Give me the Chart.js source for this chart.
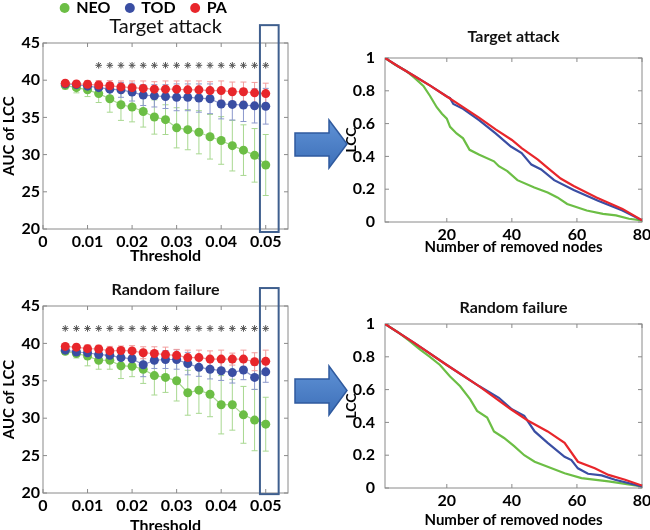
<!DOCTYPE html>
<html lang="en">
<head>
  <meta charset="UTF-8">
  <title>AUC of LCC and LCC curves</title>
  <style>
    body {
      margin: 0;
      width: 650px;
      height: 530px;
      overflow: hidden;
      position: relative;
      background: #fff;
    }
    canvas { position: absolute; }
    #ta-auc { left: 0; top: -16px; }
    #rf-auc { left: 0; top: 270px; }
    #ta-lcc { left: 340px; top: 28px; }
    #rf-lcc { left: 340px; top: 296px; }
    svg { position: absolute; left: 0; top: 0; pointer-events: none; }
  </style>
</head>
<body>
  <canvas id="ta-auc" width="308" height="281"></canvas>
  <canvas id="rf-auc" width="308" height="265"></canvas>
  <canvas id="ta-lcc" width="310" height="228"></canvas>
  <canvas id="rf-lcc" width="310" height="233"></canvas>
  <svg width="650" height="530">
    <defs>
      <linearGradient id="arrowFill" x1="0" y1="0" x2="0" y2="1">
        <stop offset="0" stop-color="#5f92d6"/>
        <stop offset="1" stop-color="#3d6fb8"/>
      </linearGradient>
    </defs>
    <polygon points="295,133 329,133 329,120 347,144 329,168 329,156 295,156" fill="url(#arrowFill)" stroke="#2f5a9e" stroke-width="1.5"/>
    <polygon points="295,379 329,379 329,366 347,390.5 329,415 329,403 295,403" fill="url(#arrowFill)" stroke="#2f5a9e" stroke-width="1.5"/>
  </svg>

  <script src="https://cdn.jsdelivr.net/npm/chart.js"></script>
  <script>
    // ---- data: left panels (AUC of LCC vs threshold) ----
    const thresholds = [0.005, 0.0075, 0.01, 0.0125, 0.015, 0.0175, 0.02, 0.0225, 0.025, 0.0275,
                        0.03, 0.0325, 0.035, 0.0375, 0.04, 0.0425, 0.045, 0.0475, 0.05];

    const taAucNEO = [39.3, 39.0, 38.7, 38.2, 37.5, 36.7, 36.4, 35.8, 35.05, 34.7, 33.6, 33.35, 33.0, 32.4, 31.9, 31.2, 30.6, 29.9, 28.6];
    const taErrNEO = [0.5, 0.7, 0.9, 1.2, 1.8, 2.1, 2.0, 2.1, 2.3, 2.0, 2.7, 2.7, 2.9, 3.0, 3.2, 3.4, 3.4, 3.6, 4.1];
    const taAucTOD = [39.5, 39.4, 39.2, 39.0, 38.8, 38.7, 38.4, 38.0, 37.9, 37.8, 37.7, 37.7, 37.6, 37.5, 36.8, 36.75, 36.65, 36.55, 36.5];
    const taErrTOD = [0.3, 0.4, 0.5, 0.7, 0.9, 1.0, 1.2, 1.4, 1.5, 1.6, 1.8, 1.8, 1.9, 2.0, 2.0, 2.1, 2.2, 2.3, 2.4];
    const taAucPA  = [39.6, 39.5, 39.45, 39.35, 39.25, 39.1, 39.0, 38.9, 38.8, 38.8, 38.8, 38.7, 38.7, 38.6, 38.6, 38.45, 38.45, 38.3, 38.2];
    const taErrPA  = [0.3, 0.4, 0.5, 0.6, 0.7, 0.8, 0.9, 1.0, 1.0, 1.1, 1.1, 1.2, 1.2, 1.2, 1.3, 1.3, 1.3, 1.4, 1.4];
    const taStars  = [0.0125, 0.015, 0.0175, 0.02, 0.0225, 0.025, 0.0275, 0.03, 0.0325, 0.035, 0.0375, 0.04, 0.0425, 0.045, 0.0475, 0.05];

    const rfAucNEO = [38.95, 38.65, 38.3, 37.75, 37.75, 37.0, 36.95, 36.55, 35.7, 35.45, 35.0, 33.4, 33.75, 33.2, 31.8, 31.8, 30.45, 29.75, 29.2];
    const rfErrNEO = [0.4, 0.6, 1.3, 1.2, 1.2, 1.7, 1.4, 1.9, 2.6, 2.0, 2.7, 3.0, 3.1, 3.0, 3.9, 3.4, 3.8, 4.1, 3.6];
    const rfAucTOD = [39.1, 38.85, 38.75, 38.5, 38.4, 38.1, 37.95, 37.15, 37.75, 37.85, 37.85, 37.3, 36.8, 36.55, 36.35, 36.1, 36.45, 35.45, 36.2];
    const rfErrTOD = [0.3, 0.5, 0.6, 0.7, 0.8, 0.9, 0.9, 1.6, 1.1, 1.2, 1.3, 1.5, 1.2, 1.3, 1.3, 1.4, 1.3, 1.6, 1.4];
    const rfAucPA  = [39.6, 39.5, 39.3, 39.25, 39.0, 39.05, 39.0, 38.75, 38.65, 38.5, 38.4, 38.1, 38.1, 37.9, 37.9, 37.9, 37.9, 37.55, 37.6];
    const rfErrPA  = [0.3, 0.4, 0.5, 0.5, 0.6, 0.6, 0.7, 0.8, 0.9, 1.0, 0.8, 1.0, 1.0, 1.1, 1.2, 0.8, 1.2, 1.2, 1.5];
    const rfStars  = [0.005, 0.0075, 0.01, 0.0125, 0.015, 0.0175, 0.02, 0.0225, 0.025, 0.0275,
                      0.03, 0.0325, 0.035, 0.0375, 0.04, 0.0425, 0.045, 0.0475, 0.05];
    const starLevel = 42;

    // ---- data: right panels (LCC vs removed nodes) ----
    const taNodesPA  = [1, 5, 10, 15, 20, 25, 30, 35, 40, 43, 48, 51, 55, 59, 66, 74, 80];
    const taLccPA    = [1, 0.95, 0.89, 0.83, 0.765, 0.70, 0.635, 0.565, 0.50, 0.45, 0.38, 0.33, 0.265, 0.22, 0.15, 0.08, 0.01];
    const taNodesTOD = [1, 5, 10, 15, 20, 21, 22, 25, 30, 35, 39.7, 43, 46, 49, 53, 59, 66.5, 74, 80];
    const taLccTOD   = [1, 0.95, 0.89, 0.83, 0.765, 0.755, 0.72, 0.69, 0.62, 0.54, 0.46, 0.42, 0.35, 0.32, 0.255, 0.195, 0.13, 0.07, 0.01];
    const taNodesNEO = [1, 4, 7.6, 10, 12.8, 14.8, 16.9, 18.5, 20, 21, 23, 25, 27, 30, 34.5, 36, 38.6, 41.7, 46.9, 51, 54, 57, 63, 68, 72, 76, 80];
    const taLccNEO   = [1, 0.96, 0.92, 0.88, 0.83, 0.77, 0.70, 0.66, 0.63, 0.58, 0.54, 0.51, 0.44, 0.41, 0.37, 0.34, 0.31, 0.255, 0.21, 0.18, 0.15, 0.11, 0.07, 0.05, 0.04, 0.02, 0.01];

    const rfNodesPA  = [1, 10, 20, 30, 39.7, 45, 51, 56.2, 60.3, 65.5, 69.7, 74.8, 80];
    const rfLccPA    = [1, 0.885, 0.75, 0.62, 0.48, 0.41, 0.345, 0.275, 0.16, 0.12, 0.08, 0.05, 0.015];
    const rfNodesTOD = [1, 10, 20, 30, 36, 40, 43.8, 47, 51, 56.2, 58.3, 60.3, 63.4, 67.6, 71.7, 80];
    const rfLccTOD   = [1, 0.885, 0.75, 0.62, 0.55, 0.48, 0.44, 0.345, 0.275, 0.19, 0.17, 0.12, 0.087, 0.077, 0.05, 0.01];
    const rfNodesNEO = [1, 5, 8.6, 11.7, 14.8, 17.9, 21, 24.1, 27.2, 29.3, 32.4, 34.5, 37.6, 40.7, 43.8, 47, 51, 56.2, 61.4, 69.7, 80];
    const rfLccNEO   = [1, 0.95, 0.895, 0.845, 0.80, 0.75, 0.68, 0.62, 0.54, 0.47, 0.43, 0.345, 0.305, 0.255, 0.2, 0.16, 0.13, 0.09, 0.06, 0.04, 0.01];

    // ---- tick labels ----
    const aucTicks = [20, 25, 30, 35, 40, 45];
    const thresholdTicks = [0, 0.01, 0.02, 0.03, 0.04, 0.05];
    const lccTicks = [0, 0.2, 0.4, 0.6, 0.8, 1];
    const nodeTicks = [20, 40, 60, 80];

    const GREEN = '#6cbe45', BLUE = '#3a4ea3', RED = '#e8262b';
    const GREEN_L = '#a8d890', BLUE_L = '#8c98cc', RED_L = '#f29c9c';

    Chart.defaults.font.family = "Lato, 'Open Sans', sans-serif";
    Chart.defaults.color = '#000';
    Chart.defaults.animation = false;

    // vertical error bars, drawn under the points
    const errorBars = {
      id: 'errorBars',
      beforeDatasetsDraw(chart) {
        const {ctx, scales: {x, y}} = chart;
        chart.data.datasets.forEach(ds => {
          if (!ds.errors) return;
          ctx.save();
          ctx.strokeStyle = ds.errorColor;
          ctx.lineWidth = 1;
          ds.data.forEach((p, j) => {
            const px = x.getPixelForValue(p.x);
            const top = y.getPixelForValue(p.y + ds.errors[j]);
            const bot = y.getPixelForValue(p.y - ds.errors[j]);
            ctx.beginPath();
            ctx.moveTo(px, top); ctx.lineTo(px, bot);
            ctx.moveTo(px - 3, top); ctx.lineTo(px + 3, top);
            ctx.moveTo(px - 3, bot); ctx.lineTo(px + 3, bot);
            ctx.stroke();
          });
          ctx.restore();
        });
      }
    };

    // matlab style box with inward ticks
    const axesBox = {
      id: 'axesBox',
      beforeDatasetsDraw(chart) {
        const {ctx, chartArea: a, scales: {x, y}} = chart;
        ctx.save();
        ctx.strokeStyle = '#8a8a8a';
        ctx.lineWidth = 1;
        ctx.strokeRect(a.left, a.top, a.right - a.left, a.bottom - a.top);
        ctx.beginPath();
        x.ticks.forEach(t => {
          const px = x.getPixelForValue(t.value);
          ctx.moveTo(px, a.bottom); ctx.lineTo(px, a.bottom - 4);
          ctx.moveTo(px, a.top); ctx.lineTo(px, a.top + 4);
        });
        y.ticks.forEach(t => {
          const py = y.getPixelForValue(t.value);
          ctx.moveTo(a.left, py); ctx.lineTo(a.left + 4, py);
          ctx.moveTo(a.right, py); ctx.lineTo(a.right - 4, py);
        });
        ctx.stroke();
        ctx.restore();
      }
    };

    // rectangle marking the 0.05 column
    const highlight = {
      id: 'highlight',
      afterDraw(chart, args, opts) {
        if (opts.x0 === undefined) return;
        const {ctx, scales: {x, y}} = chart;
        const l = x.getPixelForValue(opts.x0), r = x.getPixelForValue(opts.x1);
        const t = y.getPixelForValue(opts.y1), b = y.getPixelForValue(opts.y0);
        ctx.save();
        ctx.strokeStyle = '#3f5f8e';
        ctx.lineWidth = 2;
        ctx.strokeRect(l, t, r - l, b - t);
        ctx.restore();
      }
    };

    const setTicks = values => scale => { scale.ticks = values.map(v => ({value: v})); };
    const fixWidth = w => scale => { scale.width = w; scale.paddingTop = 0; scale.paddingBottom = 0; };
    const fixHeight = h => scale => { scale.height = h; scale.paddingLeft = 0; scale.paddingRight = 0; };
    const tickFont = {size: 16, weight: 'bold'};

    function aucSeries(label, values, errs, color, light, order) {
      return {
        label, order,
        data: thresholds.map((t, i) => ({x: t, y: values[i]})),
        errors: errs,
        errorColor: light,
        borderColor: light,
        borderWidth: 1.2,
        backgroundColor: color,
        pointBackgroundColor: color,
        pointBorderColor: color,
        pointBorderWidth: 0,
        pointRadius: 4.5,
        pointStyle: 'circle'
      };
    }

    function aucChart(id, series, stars, cfg) {
      return new Chart(document.getElementById(id), {
        type: 'line',
        data: {
          datasets: series.concat([{
            label: 'significant',
            data: stars.map(t => ({x: t, y: starLevel})),
            showLine: false,
            pointStyle: 'star',
            pointRadius: 3.3,
            pointBorderColor: '#555',
            pointBorderWidth: 1,
            order: 0
          }])
        },
        options: {
          responsive: false,
          layout: {padding: {left: 0, right: 20, top: 0, bottom: 0}},
          plugins: {
            legend: cfg.legend,
            title: cfg.title,
            tooltip: {enabled: false},
            highlight: cfg.box
          },
          scales: {
            x: {
              type: 'linear', min: 0, max: 0.055,
              grid: {display: false, drawTicks: false},
              border: {display: false},
              afterBuildTicks: setTicks(thresholdTicks),
              afterFit: fixHeight(cfg.xHeight),
              ticks: {font: tickFont, padding: 3, maxRotation: 0, autoSkip: false, callback: v => String(v)},
              title: {display: true, text: 'Threshold', font: {size: 16, weight: 'bold'}, padding: 0}
            },
            y: {
              min: 20, max: 45,
              grid: {display: false, drawTicks: false},
              border: {display: false},
              afterBuildTicks: setTicks(aucTicks),
              afterFit: fixWidth(43),
              ticks: {font: tickFont, padding: 3, autoSkip: false},
              title: {display: true, text: 'AUC of LCC', font: {size: 15, weight: 'bold'}, padding: {top: 0, bottom: 0}}
            }
          }
        },
        plugins: [errorBars, axesBox, highlight]
      });
    }

    const noLegend = {display: false};

    aucChart('ta-auc', [
      aucSeries('NEO', taAucNEO, taErrNEO, GREEN, GREEN_L, 3),
      aucSeries('TOD', taAucTOD, taErrTOD, BLUE, BLUE_L, 2),
      aucSeries('PA', taAucPA, taErrPA, RED, RED_L, 1)
    ], taStars, {
      legend: {
        display: true,
        position: 'top',
        weight: 1000,
        labels: {
          usePointStyle: true,
          boxWidth: 7,
          boxHeight: 7,
          padding: 16,
          font: {size: 16, weight: 'bold'},
          color: '#000',
          sort: (a, b) => a.datasetIndex - b.datasetIndex,
          generateLabels(chart) {
            return Chart.defaults.plugins.legend.labels.generateLabels(chart)
              .filter(item => item.datasetIndex < 3)
              .map(item => Object.assign(item, {strokeStyle: item.fillStyle, lineWidth: 0, pointStyle: 'circle'}));
          }
        }
      },
      title: {
        display: true, text: 'Target attack', fullSize: false, weight: 500,
        font: {size: 20, weight: 'normal'}, color: '#111',
        padding: {top: -11.8, bottom: 4.8}
      },
      box: {x0: 0.0487, x1: 0.0529, y0: 19.6, y1: 47.4},
      xHeight: 36
    });

    aucChart('rf-auc', [
      aucSeries('NEO', rfAucNEO, rfErrNEO, GREEN, GREEN_L, 3),
      aucSeries('TOD', rfAucTOD, rfErrTOD, BLUE, BLUE_L, 2),
      aucSeries('PA', rfAucPA, rfErrPA, RED, RED_L, 1)
    ], rfStars, {
      legend: noLegend,
      title: {
        display: true, text: 'Random failure', fullSize: false,
        font: {size: 16, weight: 'bold'}, color: '#111',
        padding: {top: 10.4, bottom: 6.4}
      },
      box: {x0: 0.0487, x1: 0.0529, y0: 19.85, y1: 47.4},
      xHeight: 42
    });

    function lccSeries(label, nodes, lcc, color, order) {
      return {
        label, order,
        data: nodes.map((n, i) => ({x: n, y: lcc[i]})),
        borderColor: color,
        borderWidth: 2.2,
        pointRadius: 0,
        tension: 0
      };
    }

    function lccChart(id, series, cfg) {
      return new Chart(document.getElementById(id), {
        type: 'line',
        data: {datasets: series},
        options: {
          responsive: false,
          layout: {padding: {left: 0, right: 8, top: 0, bottom: 0}},
          plugins: {
            legend: {display: false},
            tooltip: {enabled: false},
            title: {
              display: true, text: cfg.title, fullSize: false,
              font: {size: 16, weight: 'bold'}, color: '#111',
              padding: cfg.titlePadding
            }
          },
          scales: {
            x: {
              type: 'linear', min: 1, max: 80,
              grid: {display: false, drawTicks: false},
              border: {display: false},
              afterBuildTicks: setTicks(nodeTicks),
              afterFit: fixHeight(cfg.xHeight),
              ticks: {font: tickFont, padding: 3, maxRotation: 0, autoSkip: false},
              title: {display: true, text: 'Number of removed nodes', font: {size: 15, weight: 'bold'}, padding: 0}
            },
            y: {
              min: 0, max: 1,
              grid: {display: false, drawTicks: false},
              border: {display: false},
              afterBuildTicks: setTicks(lccTicks),
              afterFit: fixWidth(45),
              ticks: {font: tickFont, padding: 10, autoSkip: false, callback: v => String(v)},
              title: {display: true, text: 'LCC', font: {size: 14, weight: 'bold'}, padding: {top: 3, bottom: 0}}
            }
          }
        },
        plugins: [axesBox]
      });
    }

    lccChart('ta-lcc', [
      lccSeries('NEO', taNodesNEO, taLccNEO, GREEN, 3),
      lccSeries('TOD', taNodesTOD, taLccTOD, BLUE, 2),
      lccSeries('PA', taNodesPA, taLccPA, RED, 1)
    ], {title: 'Target attack', titlePadding: {top: -0.6, bottom: 11.4}, xHeight: 34});

    lccChart('rf-lcc', [
      lccSeries('NEO', rfNodesNEO, rfLccNEO, GREEN, 3),
      lccSeries('TOD', rfNodesTOD, rfLccTOD, BLUE, 2),
      lccSeries('PA', rfNodesPA, rfLccPA, RED, 1)
    ], {title: 'Random failure', titlePadding: {top: 2.4, bottom: 6.4}, xHeight: 41});
  </script>
</body>
</html>
